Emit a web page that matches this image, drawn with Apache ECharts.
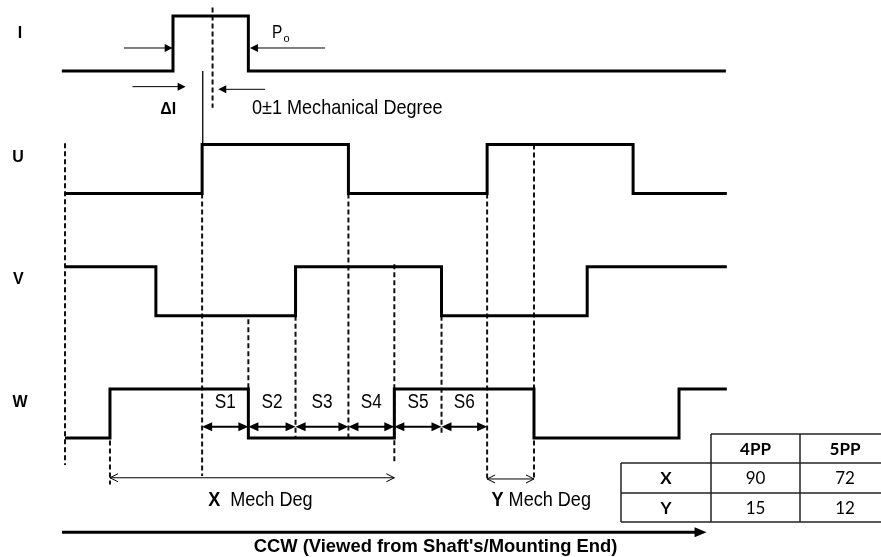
<!DOCTYPE html>
<html><head><meta charset="utf-8">
<script src="https://cdn.jsdelivr.net/npm/echarts@6/dist/echarts.min.js"></script>
<style>html,body{margin:0;padding:0;background:#fff}#c{width:881px;height:557px}</style>
</head><body><div id="c"></div>
<script>
// ---------- data (x in mechanical degrees, y in signal levels) ----------
const channels = ['I', 'U', 'V', 'W'];
const lowLevels = [3, 2, 1, 0];
const highLevels = [3.45, 2.4, 1.4, 0.4];
const startsHigh = [false, false, true, false];
const traceStart = [-1, 0, 0, 0];
const traceEnd = [208.7, 209, 209, 209];
const edgesI = [34.1, 57.9];
const edgesU = [43.3, 89.5, 133.3, 179.4];
const edgesV = [28.7, 72.8, 118.9, 164.9];
const edgesW = [14.2, 57.9, 104.0, 148.1, 193.9];
const sectorEdges = [43.3, 57.9, 72.8, 89.5, 104.0, 118.9, 133.3];
const sectorNames = ['S1', 'S2', 'S3', 'S4', 'S5', 'S6'];
const xSpan = [14.2, 104.0];
const ySpan = [133.3, 148.1];
const guideX = [0, 14.2, 43.3, 57.9, 72.8, 89.5, 104.0, 118.9, 133.3, 148.1, 46.6];
const guideTop = [2.41, -0.02, 2.0, 0.97, 1.0, 2.0, 1.42, 1.0, 2.0, 2.4, 3.52];
const guideBottom = [-0.22, -0.38, -0.31, 0.4, 0.0, 0.0, -0.2, 0.02, -0.33, -0.34, 2.7];
const tableHeader = ['4PP', '5PP'];
const tableRows = ['X', 'Y'];
const tableXValues = [90, 72];
const tableYValues = [15, 12];

// ---------- layout ----------
const REG = "'Liberation Sans', Arial, sans-serif";
const BOLD = "'Liberation Sans', Arial, sans-serif";
const NARROW = 0.86;
const styles = {
  thin:   {width: 1, head: 8, half: 4, start: false, end: true},
  sector: {width: 2, head: 10, half: 4.5, start: true, end: true},
  open:   {width: 1, head: 8, half: 4, start: true, end: true, open: true},
  ccw:    {width: 3, head: 12, half: 5, start: false, end: true}
};
const arrows = [
  {x1: 18.6, y1: 3.189, x2: 34.0, y2: 3.189, kind: 'thin'},
  {x1: 82.1, y1: 3.189, x2: 58.4, y2: 3.189, kind: 'thin'},
  {x1: 21.3, y1: 2.873, x2: 38.1, y2: 2.873, kind: 'thin'},
  {x1: 63.2, y1: 2.851, x2: 48.4, y2: 2.851, kind: 'thin'},
  {x1: -0.95, y1: -0.771, x2: 202.6, y2: -0.771, kind: 'ccw'},
  {x1: xSpan[0], y1: -0.325, x2: xSpan[1], y2: -0.325, kind: 'open'},
  {x1: ySpan[0], y1: -0.335, x2: ySpan[1], y2: -0.335, kind: 'open'}
];
for (let i = 0; i < sectorNames.length; i++) {
  arrows.push({x1: sectorEdges[i], y1: 0.092, x2: sectorEdges[i + 1], y2: 0.092, kind: 'sector'});
}
const labelX = [-14.2, -14.8, -14.7, -14.2];
const labelY = [3.303, 2.294, 1.292, 0.286];
const notes = [];
channels.forEach((c, i) => notes.push({x: labelX[i], y: labelY[i], text: c, size: 16, weight: 'bold', family: BOLD, align: 'center', sx: 1}));
notes.push({x: 67.0, y: 3.311, text: 'P', size: 18, weight: 'normal', family: REG, align: 'center', sx: NARROW});
notes.push({x: 70.0, y: 3.262, text: 'o', size: 11, weight: 'normal', family: REG, align: 'center', sx: 1});
notes.push({x: 32.6, y: 2.686, text: 'ΔI', size: 16, weight: 'bold', family: BOLD, align: 'center', sx: 1});
notes.push({x: 59.05, y: 2.694, text: '0±1 Mechanical Degree', size: 21, weight: 'normal', family: REG, align: 'left', sx: NARROW});
sectorNames.forEach((s, i) => notes.push({x: (sectorEdges[i] + sectorEdges[i + 1]) / 2, y: 0.294, text: s, size: 20, weight: 'normal', family: REG, align: 'center', sx: NARROW}));
notes.push({x: 45.2, y: -0.507, text: '{b|X}  Mech Deg', size: 21, weight: 'normal', family: REG, align: 'left', sx: NARROW});
notes.push({x: 134.7, y: -0.507, text: '{b|Y} Mech Deg', size: 21, weight: 'normal', family: REG, align: 'left', sx: NARROW});
notes.push({x: 117.0, y: -0.888, text: "CCW (Viewed from Shaft's/Mounting End)", size: 18.4, weight: 'bold', family: BOLD, align: 'center', sx: 1});

function trace(start, end, edges, low, high, startHigh) {
  let lvl = startHigh ? high : low;
  const pts = [[start, lvl]];
  edges.forEach(e => {
    pts.push([e, lvl]);
    lvl = (lvl === high) ? low : high;
    pts.push([e, lvl]);
  });
  pts.push([end, lvl]);
  return pts;
}
const allEdges = [edgesI, edgesU, edgesV, edgesW];

function arrowShape(p1, p2, st) {
  const dx = p2[0] - p1[0], dy = p2[1] - p1[1];
  const len = Math.hypot(dx, dy) || 1;
  const ux = dx / len, uy = dy / len, nx = -uy, ny = ux;
  const L = st.head, W = st.half;
  const ch = [];
  let a = p1.slice(), b = p2.slice();
  function head(tip, d) {
    const bx = tip[0] - d[0] * L, by = tip[1] - d[1] * L;
    const l = [bx + nx * W, by + ny * W], r = [bx - nx * W, by - ny * W];
    if (st.open) ch.push({type: 'polyline', shape: {points: [l, tip, r]}, style: {stroke: '#000', fill: null, lineWidth: st.width}});
    else ch.push({type: 'polygon', shape: {points: [tip, l, r]}, style: {fill: '#000'}});
  }
  if (st.start) { head(p1, [-ux, -uy]); if (!st.open) a = [p1[0] + ux * L * 0.8, p1[1] + uy * L * 0.8]; }
  if (st.end) { head(p2, [ux, uy]); if (!st.open) b = [p2[0] - ux * L * 0.8, p2[1] - uy * L * 0.8]; }
  ch.unshift({type: 'line', shape: {x1: a[0], y1: a[1], x2: b[0], y2: b[1]}, style: {stroke: '#000', lineWidth: st.width}});
  return ch;
}

const series = [];
series.push({
  type: 'custom', coordinateSystem: 'cartesian2d', clip: false, silent: true,
  data: guideX.map((x, i) => [x, guideTop[i], guideBottom[i]]),
  encode: {x: 0, y: [1, 2]},
  renderItem: (params, api) => {
    const p1 = api.coord([api.value(0), api.value(1)]);
    const p2 = api.coord([api.value(0), api.value(2)]);
    return {type: 'line', shape: {x1: p1[0], y1: p1[1], x2: p2[0], y2: p2[1]},
      style: {stroke: '#111', lineWidth: 2, lineDash: [5, 3]}};
  }
});
channels.forEach((c, i) => {
  series.push({
    type: 'line', name: c, clip: false, silent: true, showSymbol: false, symbol: 'none',
    data: trace(traceStart[i], traceEnd[i], allEdges[i], lowLevels[i], highLevels[i], startsHigh[i]),
    lineStyle: {color: '#000', width: 3, join: 'miter', cap: 'butt'}
  });
});
// thin connector from I to U
series.push({
  type: 'line', clip: false, silent: true, showSymbol: false, symbol: 'none',
  data: [[43.5, lowLevels[0]], [43.5, highLevels[1]]],
  lineStyle: {color: '#000', width: 1.3}
});
series.push({
  type: 'custom', coordinateSystem: 'cartesian2d', clip: false, silent: true,
  data: arrows.map(a => [a.x1, a.y1, a.x2, a.y2]),
  encode: {x: [0, 2], y: [1, 3]},
  renderItem: (params, api) => {
    const p1 = api.coord([api.value(0), api.value(1)]);
    const p2 = api.coord([api.value(2), api.value(3)]);
    return {type: 'group', children: arrowShape(p1, p2, styles[arrows[params.dataIndex].kind])};
  }
});
series.push({
  type: 'custom', coordinateSystem: 'cartesian2d', clip: false, silent: true,
  data: notes.map(n => [n.x, n.y]),
  encode: {x: 0, y: 1},
  renderItem: (params, api) => {
    const n = notes[params.dataIndex];
    const p = api.coord([api.value(0), api.value(1)]);
    return {type: 'text', x: p[0], y: p[1], scaleX: n.sx, scaleY: 1, style: {
      text: n.text, fill: '#000', fontSize: n.size, fontWeight: n.weight, fontFamily: n.family,
      align: n.align, verticalAlign: 'middle',
      rich: {b: {fontWeight: 'bold', fontSize: n.size, fontFamily: BOLD, fill: '#000'}}
    }};
  }
});

// ---------- table (graphic) ----------
const colX = [621, 711, 800, 890];
const rowY = [434, 463, 493, 522];
const TF = "Lato, 'Open Sans', sans-serif";
const g = [];
function hl(y, x1, x2) { g.push({type: 'line', shape: {x1, y1: y, x2, y2: y}, style: {stroke: '#222', lineWidth: 1.5}}); }
function vl(x, y1, y2) { g.push({type: 'line', shape: {x1: x, y1, x2: x, y2}, style: {stroke: '#222', lineWidth: 1.5}}); }
hl(rowY[0], colX[1], colX[3]); hl(rowY[1], colX[0], colX[3]); hl(rowY[2], colX[0], colX[3]); hl(rowY[3], colX[0], colX[3]);
vl(colX[0], rowY[1], rowY[3]); vl(colX[1], rowY[0], rowY[3]); vl(colX[2], rowY[0], rowY[3]); vl(colX[3], rowY[0], rowY[3]);
function cellText(t, c, r, bold) {
  g.push({type: 'text', x: (colX[c] + colX[c + 1]) / 2, y: (rowY[r] + rowY[r + 1]) / 2 + 1,
    style: {text: String(t), fill: '#000', fontSize: 17, fontWeight: bold ? 'bold' : 'normal', fontFamily: TF, align: 'center', verticalAlign: 'middle'}});
}
tableHeader.forEach((h, i) => cellText(h, i + 1, 0, true));
tableRows.forEach((r, i) => cellText(r, 0, i + 1, true));
tableXValues.forEach((v, i) => cellText(v, i + 1, 1, false));
tableYValues.forEach((v, i) => cellText(v, i + 1, 2, false));

const chart = echarts.init(document.getElementById('c'));
chart.setOption({
  animation: false,
  backgroundColor: '#fff',
  grid: {left: 1.67, top: 9.95, width: 870.83, height: 544.24, containLabel: false, outerBoundsMode: 'none'},
  xAxis: {type: 'value', min: -20, max: 255, show: false},
  yAxis: {type: 'value', min: -0.95, max: 3.5, show: false},
  series: series,
  graphic: g
});
</script></body></html>
